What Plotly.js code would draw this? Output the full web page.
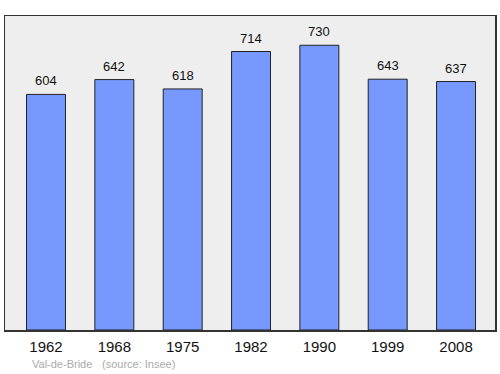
<!DOCTYPE html>
<html>
<head>
<meta charset="utf-8">
<script src="https://cdn.plot.ly/plotly-3.0.1.min.js"></script>
<style>html,body{margin:0;padding:0;background:#fff}#chart{width:500px;height:374px}</style>
</head>
<body>
<div id="chart"></div>
<script>
const years = ["1962", "1968", "1975", "1982", "1990", "1999", "2008"];
const population = [604, 642, 618, 714, 730, 643, 637];
const footerName = "Val-de-Bride";
const footerSource = "(source: Insee)";

const trace = {
  type: "bar",
  x: years,
  y: population,
  width: 0.57,
  marker: {color: "#7799ff", line: {color: "#222", width: 1}},
  hoverinfo: "none"
};

const labels = years.map((yr, i) => ({
  x: i, y: population[i], xref: "x", yref: "y",
  text: String(population[i]), showarrow: false,
  xanchor: "center", yanchor: "bottom", yshift: 4,
  font: {family: "Liberation Sans, Arial, sans-serif", size: 13, color: "#111"}
}));

labels.push({
  xref: "paper", yref: "paper", x: 0.051, y: -0.108, xanchor: "left", yanchor: "middle",
  text: footerName, showarrow: false,
  font: {family: "Liberation Sans, Arial, sans-serif", size: 11, color: "#aaa"}
});
labels.push({
  xref: "paper", yref: "paper", x: 0.193, y: -0.108, xanchor: "left", yanchor: "middle",
  text: footerSource, showarrow: false,
  font: {family: "Liberation Sans, Arial, sans-serif", size: 11, color: "#aaa"}
});

const layout = {
  width: 500, height: 374,
  margin: {l: 5, r: 5, t: 16, b: 44, pad: 0},
  paper_bgcolor: "#ffffff",
  plot_bgcolor: "#eeeeee",
  showlegend: false,
  xaxis: {
    type: "category", range: [-0.6, 6.57],
    showline: true, mirror: true, linecolor: "#333", linewidth: 1.5,
    ticks: "", showgrid: false, zeroline: false,
    ticklabelstandoff: 2,
    tickfont: {family: "Liberation Sans, Arial, sans-serif", size: 15, color: "#111"}
  },
  yaxis: {
    range: [0, 805],
    showline: true, mirror: true, linecolor: "#333", linewidth: 1.5,
    showticklabels: false, ticks: "", showgrid: false, zeroline: false
  },
  annotations: labels
};

Plotly.newPlot("chart", [trace], layout, {staticPlot: true, displayModeBar: false});
</script>
</body>
</html>
